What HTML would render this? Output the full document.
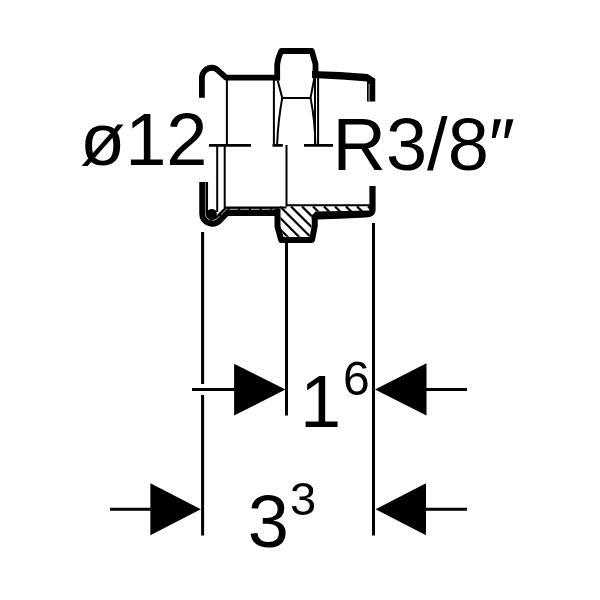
<!DOCTYPE html>
<html><head><meta charset="utf-8">
<style>
html,body{margin:0;padding:0;background:#fff;}
svg{display:block;will-change:transform;}
text{font-family:"Liberation Sans",sans-serif;fill:#000;}
</style></head>
<body>
<svg width="600" height="600" viewBox="0 0 600 600">
<defs>
  <clipPath id="hc">
    <polygon points="280.5,206 371,206 371,211.5 315.5,211.5 311.75,215.5 311.75,225 309.5,236.75 284,236.75 280.5,228"/>
  </clipPath>
</defs>
<rect width="600" height="600" fill="#fff"/>
<g fill="none" stroke="#000">
  <!-- ===== upper exterior view ===== -->
  <!-- left hook -->
  <path d="M201.9,97.8 V77.75 A10,10 0 0 1 211.9,67.75 C214.5,67.75 216.5,68.8 218.5,70.8 L226,77.7 H279" stroke-width="5.8" stroke-linejoin="round"/>
  <!-- hex outline -->
  <path d="M277.2,80.5 V65 Q277.6,59 281.3,51 H311.8 L315.5,64 V76" stroke-width="5.8" stroke-linejoin="round"/>
  <!-- right top bar -->
  <path d="M312,70.9 L340,72 L367.75,73.9 L375.25,78.75 V101.6 H367 V81.4 L345,79.7 L318,78.2 L312,78 Z" fill="#000" stroke="none"/>
  <path d="M369.1,84 V101.6" stroke="#aaa" stroke-width="1.1"/>
  <!-- thin lines upper -->
  <path d="M226.9,80 V145 M273.9,80 V145 M315,76 V145 M318.1,76 V145" stroke-width="2"/>
  <path d="M277.75,80.75 L282.25,97.9 H310.5 L314.5,77.5" stroke-width="2"/>
  <path d="M282.25,97.9 Q277.9,122 277.1,145 M310.5,97.9 Q315,120 315.4,145" stroke-width="2"/>
  <!-- break line -->
  <path d="M209,145.3 H251 M272.5,145.3 H282.8 M304,145.3 H333" stroke-width="2.7"/>

  <!-- ===== lower section ===== -->
  <path d="M217.2,145 V212 M224.7,145 V208 M286.5,145 V206.5" stroke-width="2"/>
  <!-- hatch -->
  <g clip-path="url(#hc)" stroke-width="2.2">
    <path d="M257.2,206.4 l40,40 M268.6,206.4 l40,40 M280,206.4 l40,40 M291,206.4 l40,40 M302,206.4 l40,40 M313,206.4 l40,40 M324,206.4 l40,40 M335,206.4 l40,40 M346,206.4 l40,40 M357,206.4 l40,40 M368,206.4 l40,40"/>
  </g>
  <!-- thin bore lines -->
  <path d="M224,207.5 H286.5 M286.5,205.3 H371" stroke-width="2"/>
  <!-- left U band -->
  <path d="M203.65,182 V213.5 A8.7,8.7 0 0 0 218.5,219.65 L226.65,211.5 H279.5" stroke-width="8.8" stroke-linejoin="round"/>
  <path d="M205.4,182 V213.5" stroke="#fff" stroke-width="0.8" opacity="0.6"/>
  <path d="M205.4,213.5 A6.95,6.95 0 0 0 217.26,218.4 L226.36,209.3 H278" stroke="#fff" stroke-width="0.9" stroke-dasharray="8.7 2" opacity="0.75"/>
  <!-- hex section outline -->
  <path d="M277.5,209 V226.5 L281.2,239.9 H312 L314.75,226 V218" stroke-width="6" stroke-linejoin="round"/>
</g>
<circle cx="211.8" cy="213.9" r="5" fill="#000"/>
<!-- threaded wall thick -->
<path fill="#000" d="M311.75,215.5 L315.5,211.45 L369.4,210.6 V186 H375.6 V209.5 C375.6,214.5 372.5,217.3 366,217.4 L340,218.75 L317.75,219.6 H311.75 Z"/>

<!-- ===== dimension lines ===== -->
<g fill="none" stroke="#000" stroke-width="3">
  <path d="M202.6,232 V384 M202.6,395 V535.5"/>
  <path d="M286.5,241.5 V415.5"/>
  <path d="M373.5,223 V535.5"/>
  <path d="M192,389.5 H240 M420,389.5 H467"/>
  <path d="M110,509.3 H155 M420,509.3 H467"/>
</g>
<g fill="#000">
  <polygon points="234.1,363.8 234.1,415.5 285.5,389.5"/>
  <polygon points="426.5,363.3 426.5,415.5 375,389.5"/>
  <polygon points="150.4,483.2 150.4,535.3 200.8,509.3"/>
  <polygon points="426,483.2 426,535.3 375.6,509.3"/>
</g>

<text x="80" y="165.3" font-size="74">ø12</text>
<text x="332.5" y="170" font-size="74">R3/8″</text>
<text x="300" y="427" font-size="74">1</text>
<text x="343" y="395" font-size="48">6</text>
<text x="247.7" y="547" font-size="74">3</text>
<text x="290" y="514.5" font-size="47">3</text>
</svg>
</body></html>
